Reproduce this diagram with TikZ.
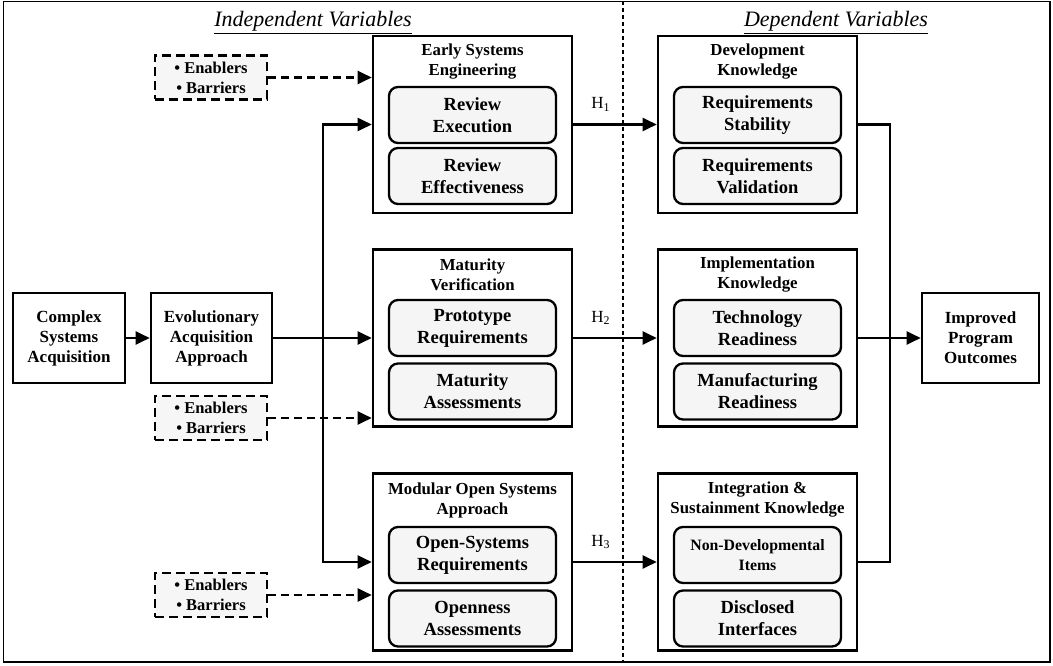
\documentclass[tikz,border=0pt]{standalone}
\usepackage{fontspec}
\setmainfont{Liberation Serif}
\usetikzlibrary{arrows.meta}
\begin{document}
\begin{tikzpicture}[x=1pt,y=-1pt,
  outerbox/.style={draw, line width=2.6pt, minimum width=199pt, minimum height=177pt, inner sep=0pt},
  innerbox/.style={draw, line width=2.3pt, rounded corners=9pt, fill=gray!8, minimum width=167pt,
    minimum height=56pt, align=center, inner sep=0pt, font=\bfseries\fontsize{18.5}{22}\selectfont},
  plainbox/.style={draw, line width=2.6pt, minimum height=90pt, align=center, inner sep=0pt,
    font=\bfseries\fontsize{17}{20}\selectfont},
  boxtitle/.style={align=center, inner sep=0pt, font=\bfseries\fontsize{16.8}{20}\selectfont},
  enabler/.style={draw, dash pattern=on 9pt off 5pt, line width=2.3pt, fill=gray!7, minimum width=112pt,
    minimum height=44pt, align=center, inner sep=0pt, font=\bfseries\fontsize{16.5}{20}\selectfont},
  wire/.style={line width=2.2pt},
  conn/.style={line width=2.2pt, -{Triangle[length=14pt,width=13pt]}},
  dconn/.style={conn, dash pattern=on 8pt off 5pt},
  hlabel/.style={inner sep=0pt, font=\fontsize{17}{17}\selectfont},
  heading/.style={inner sep=0pt, anchor=base, font=\itshape\fontsize{22}{22}\selectfont}]
\useasboundingbox (0,0) rectangle (1053,666);

% frame and divider
\draw[line width=1.8pt] (3.5,1.5) rectangle (1050,662);
\draw[line width=1.3pt, dash pattern=on 4pt off 3pt] (623,1.5) -- (623,662);

\node[heading] (hind) at (313,27) {\underline{Independent Variables}};
\node[heading] (hdep) at (836,27) {\underline{Dependent Variables}};

% acquisition chain
\node[plainbox, minimum width=112pt] (csa) at (69,338) {Complex\\Systems\\Acquisition};
\node[plainbox, minimum width=121pt] (eaa) at (211.5,338) {Evolutionary\\Acquisition\\Approach};
\node[plainbox, minimum width=117pt] (ipo) at (980.5,338) {Improved\\Program\\Outcomes};

% independent variable groups
\node[outerbox] (ese) at (472.5,124.5) {};
\node[boxtitle] at (472.5,62) {Early Systems\\Engineering};
\node[innerbox] (rex) at (472.5,115) {Review\\Execution};
\node[innerbox] (ref) at (472.5,176) {Review\\Effectiveness};

\node[outerbox] (mv) at (472.5,338) {};
\node[boxtitle] at (472.5,275) {Maturity\\Verification};
\node[innerbox] (pr) at (472.5,328) {Prototype\\Requirements};
\node[innerbox] (ma) at (472.5,391.5) {Maturity\\Assessments};

\node[outerbox] (mosa) at (472.5,562) {};
\node[boxtitle] at (472.5,500) {Modular Open Systems\\Approach};
\node[innerbox] (osr) at (472.5,555) {Open-Systems\\Requirements};
\node[innerbox] (oa) at (472.5,618.5) {Openness\\Assessments};

% dependent variable groups
\node[outerbox] (dk) at (757.5,124.5) {};
\node[boxtitle] at (757.5,62) {Development\\Knowledge};
\node[innerbox] (rs) at (757.5,115) {Requirements\\Stability};
\node[innerbox] (rv) at (757.5,176) {Requirements\\Validation};

\node[outerbox] (ik) at (757.5,338) {};
\node[boxtitle] at (757.5,275) {Implementation\\Knowledge};
\node[innerbox] (tr) at (757.5,328) {Technology\\Readiness};
\node[innerbox] (mr) at (757.5,391.5) {Manufacturing\\Readiness};

\node[outerbox] (isk) at (757.5,562) {};
\node[boxtitle] at (757.5,500) {Integration \&\\Sustainment Knowledge};
\node[innerbox, font=\bfseries\fontsize{15.8}{20}\selectfont] (ndi) at (757.5,555) {Non-Developmental\\Items};
\node[innerbox] (di) at (757.5,618.5) {Disclosed\\Interfaces};

% enablers and barriers
\node[enabler] (eb1) at (211,77.5) {• Enablers\\• Barriers};
\node[enabler] (eb2) at (211,418) {• Enablers\\• Barriers};
\node[enabler] (eb3) at (211,595) {• Enablers\\• Barriers};

% connectors
\draw[conn] (csa) -- (eaa);
\draw[conn] (eaa) -- (mv);
\coordinate (split) at (323,338);
\draw[conn] (split) |- (ese.west);
\draw[conn] (split) |- (mosa.west);

\draw[dconn] (eb1.east) -- (eb1.east -| ese.west);
\draw[dconn] (eb2.east) -- (eb2.east -| mv.west);
\draw[dconn] (eb3.east) -- (eb3.east -| mosa.west);

\draw[conn] (ese) -- node[hlabel, pos=0.33, above=12pt] (h1) {H\textsubscript{1}} (dk);
\draw[conn] (mv) -- node[hlabel, pos=0.33, above=12pt] (h2) {H\textsubscript{2}} (ik);
\draw[conn] (mosa) -- node[hlabel, pos=0.33, above=12pt] (h3) {H\textsubscript{3}} (isk);

\coordinate (merge) at (890,338);
\draw[wire] (dk.east) -| (merge) |- (isk.east);
\draw[conn] (ik) -- (ipo);
\end{tikzpicture}
\end{document}
